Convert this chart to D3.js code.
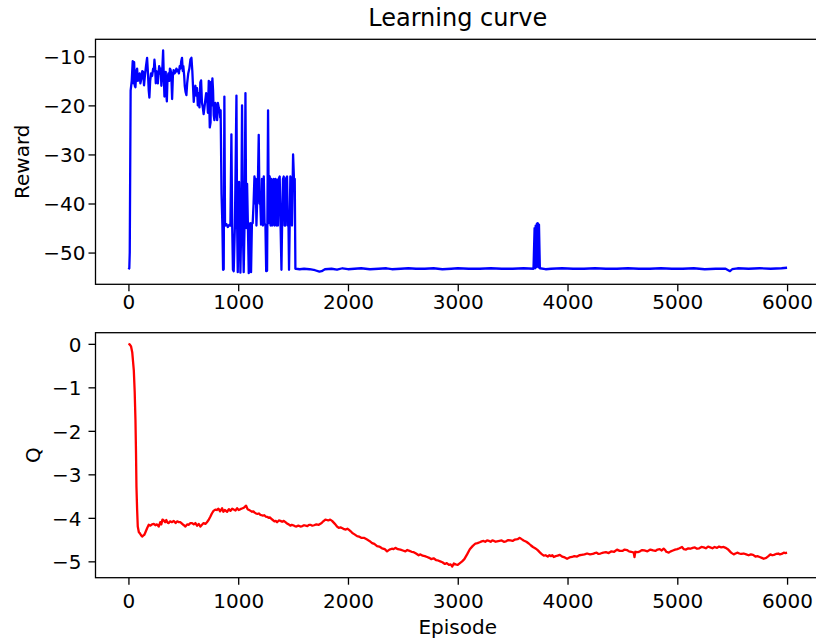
<!DOCTYPE html>
<html>
<head>
<meta charset="utf-8">
<script src="https://cdn.jsdelivr.net/npm/d3@7"></script>
<style>
  body { margin: 0; background: #fff; }
  text { font-family: "DejaVu Sans", sans-serif; fill: #000; }
</style>
</head>
<body>
<svg id="chart" width="816" height="643"></svg>
<script>
// episode / reward pairs
var rewardPoints = [
  [0,-53.4],[8,-53.2],[12,-50],[20,-17],[30,-15],[39,-11],[45,-15.5],[52,-11.2],[58,-16],[64,-16.3],
  [72,-13],[79,-12.5],[86,-15],[94,-14.3],[102,-13.5],[109,-15.5],[118,-14.5],[126,-13],[134,-13.2],[142,-15.9],
  [150,-14],[160,-12],[170,-10.3],[178,-13.5],[185,-17],[191,-18.4],[198,-15],[206,-13.5],[216,-14],[225,-12.5],
  [231,-13],[237,-10.7],[244,-12.5],[249,-15.5],[255,-13],[262,-14.5],[268,-15.5],[273,-13.8],[280,-12],[287,-13.5],
  [294,-12.5],[300,-16],[306,-14],[316,-8.8],[322,-14],[328,-18.2],[335,-15],[340,-13.2],[343,-17],[350,-19.2],
  [356,-14.5],[364,-13.5],[372,-15],[378,-12.5],[383,-12.7],[390,-13.5],[398,-18.7],[405,-14],[412,-12.8],[419,-13.5],
  [430,-13.2],[437,-12.5],[443,-13],[450,-12.8],[460,-13.5],[467,-12],[474,-12.5],[481,-11],[488,-10.3],[495,-13],
  [500,-12],[508,-14],[513,-16],[520,-17.2],[528,-17.9],[535,-15.5],[545,-13.5],[555,-12.5],[565,-10.6],[574,-10.3],
  [582,-13],[588,-16],[595,-19.3],[602,-17],[610,-16],[617,-18],[625,-16.5],[632,-20],[640,-17.5],[647,-20.4],
  [655,-15.3],[662,-14.9],[670,-19.5],[678,-20.5],[685,-21.8],[692,-20.5],[700,-19],[708,-17.5],[716,-18],[724,-21.5],
  [732,-15],[741,-24.5],[748,-23.5],[753,-15.2],[758,-20],[765,-14.5],[771,-17],[777,-22],[783,-23],[792,-19.5],
  [800,-21],[808,-23],[815,-19.5],[823,-20.5],[830,-21],[836,-22.5],[840,-21],[848,-38],[856,-44.5],[862,-53.5],
  [868,-53.4],[874,-18.2],[880,-44.5],[893,-44.2],[905,-44.8],[920,-44.3],[929,-44.5],[938,-25.9],[945,-44],[952,-53.5],
  [959,-53.8],[970,-44.5],[984,-18],[990,-44],[996,-54],[1002,-44],[1008,-35.6],[1014,-44.5],[1020,-54.1],[1028,-44],
  [1035,-20],[1042,-44.5],[1050,-54],[1058,-44],[1066,-17.5],[1073,-45],[1081,-36],[1088,-44],[1096,-54.2],[1105,-44.5],
  [1110,-44],[1117,-54],[1125,-44],[1132,-44],[1140,-40],[1148,-34.5],[1155,-40],[1160,-35],[1166,-44.5],[1172,-40],
  [1180,-35],[1187,-26],[1194,-40],[1202,-40.2],[1208,-44.3],[1216,-35],[1225,-44.5],[1233,-34.5],[1240,-44],[1248,-44.5],
  [1255,-53.8],[1263,-53.7],[1272,-21],[1279,-44],[1287,-34.5],[1295,-44.5],[1302,-35],[1309,-44.5],[1316,-35.5],[1324,-35],
  [1330,-44.5],[1340,-35],[1348,-44.5],[1356,-35.2],[1362,-44.5],[1369,-35],[1378,-34.5],[1386,-44.5],[1394,-53.5],[1400,-44],
  [1408,-35],[1415,-34.5],[1422,-44.5],[1430,-44.5],[1437,-34.8],[1445,-34.5],[1452,-44.5],[1458,-44],[1463,-53.5],[1469,-44.5],
  [1475,-34.5],[1482,-35],[1490,-44.5],[1500,-30],[1508,-35],[1515,-35],[1521,-53.3],[1527,-53.3],[1560,-53.4],[1600,-53.3],
  [1650,-53.4],[1700,-53.6],[1740,-53.9],[1760,-53.8],[1790,-53.4],[1850,-53.3],[1900,-53.5],[1950,-53.2],[2000,-53.4],[2060,-53.3],
  [2120,-53.2],[2200,-53.4],[2280,-53.3],[2350,-53.2],[2400,-53.4],[2480,-53.3],[2550,-53.2],[2620,-53.3],[2700,-53.3],[2780,-53.2],
  [2860,-53.4],[2940,-53.3],[3000,-53.2],[3100,-53.3],[3200,-53.3],[3300,-53.2],[3400,-53.3],[3500,-53.3],[3600,-53.2],[3690,-53.3],
  [3700,-45],[3705,-53.2],[3710,-44.5],[3715,-53],[3720,-44.2],[3728,-44],[3735,-53],[3740,-44.3],[3748,-53.2],[3800,-53.4],
  [3850,-53.3],[3950,-53.2],[4050,-53.3],[4150,-53.3],[4250,-53.2],[4350,-53.3],[4450,-53.3],[4550,-53.2],[4650,-53.3],[4750,-53.3],
  [4850,-53.2],[4950,-53.3],[5050,-53.3],[5150,-53.2],[5250,-53.4],[5350,-53.3],[5440,-53.3],[5480,-53.8],[5500,-53.4],[5550,-53.2],
  [5650,-53.3],[5750,-53.2],[5850,-53.3],[5950,-53.2],[6000,-53.1]
];

// episode / Q pairs
var qPoints = [
  [0,0],[10,-0.01],[24,-0.06],[35,-0.2],[49,-0.61],[57,-1.1],[64,-1.75],[69,-2.5],[73,-3.28],[79,-3.8],
  [85,-4.2],[95,-4.33],[103,-4.35],[115,-4.4],[125,-4.43],[134,-4.41],[145,-4.39],[155,-4.33],[170,-4.24],[185,-4.16],
  [200,-4.18],[215,-4.15],[231,-4.14],[245,-4.17],[260,-4.15],[276,-4.2],[290,-4.1],[300,-4.15],[310,-4.04],[322,-4.06],
  [335,-4.1],[345,-4.05],[356,-4.11],[367,-4.12],[380,-4.08],[395,-4.1],[413,-4.07],[430,-4.12],[445,-4.08],[460,-4.1],
  [474,-4.1],[490,-4.14],[505,-4.17],[519,-4.2],[535,-4.15],[550,-4.16],[565,-4.12],[580,-4.12],[595,-4.15],[610,-4.12],
  [625,-4.18],[640,-4.14],[656,-4.2],[670,-4.16],[685,-4.12],[701,-4.14],[715,-4.1],[730,-4.05],[747,-3.97],[760,-3.9],
  [775,-3.84],[792,-3.81],[805,-3.82],[820,-3.79],[835,-3.85],[853,-3.78],[865,-3.86],[878,-3.82],[899,-3.86],[915,-3.8],
  [930,-3.84],[945,-3.79],[959,-3.81],[975,-3.83],[990,-3.78],[1005,-3.82],[1020,-3.8],[1040,-3.78],[1055,-3.76],[1072,-3.72],
  [1085,-3.8],[1100,-3.82],[1113,-3.84],[1126,-3.86],[1138,-3.85],[1150,-3.88],[1163,-3.9],[1175,-3.91],[1188,-3.9],[1202,-3.93],
  [1214,-3.94],[1225,-3.95],[1238,-3.94],[1250,-3.97],[1265,-3.98],[1278,-4.0],[1290,-3.99],[1300,-4.02],[1315,-4.05],[1330,-4.08],
  [1342,-4.07],[1354,-4.1],[1370,-4.06],[1385,-4.07],[1400,-4.09],[1415,-4.07],[1430,-4.1],[1445,-4.13],[1460,-4.15],[1475,-4.18],
  [1488,-4.16],[1500,-4.17],[1515,-4.19],[1530,-4.2],[1548,-4.18],[1567,-4.2],[1585,-4.19],[1600,-4.17],[1615,-4.18],[1630,-4.19],
  [1645,-4.16],[1658,-4.16],[1675,-4.18],[1690,-4.17],[1712,-4.15],[1734,-4.16],[1760,-4.12],[1775,-4.08],[1794,-4.04],[1808,-4.05],
  [1820,-4.06],[1838,-4.04],[1855,-4.07],[1870,-4.11],[1885,-4.15],[1900,-4.2],[1916,-4.23],[1932,-4.22],[1950,-4.24],[1965,-4.26],
  [1980,-4.27],[1995,-4.25],[2007,-4.27],[2025,-4.31],[2040,-4.35],[2060,-4.38],[2083,-4.42],[2100,-4.43],[2120,-4.46],[2145,-4.46],
  [2174,-4.5],[2195,-4.53],[2220,-4.58],[2240,-4.6],[2265,-4.65],[2285,-4.66],[2310,-4.7],[2335,-4.72],[2356,-4.77],[2378,-4.73],
  [2400,-4.71],[2415,-4.72],[2432,-4.69],[2455,-4.72],[2478,-4.73],[2500,-4.75],[2523,-4.77],[2540,-4.74],[2560,-4.76],[2580,-4.78],
  [2599,-4.79],[2620,-4.82],[2644,-4.86],[2660,-4.84],[2680,-4.87],[2700,-4.88],[2721,-4.9],[2740,-4.92],[2760,-4.95],[2780,-4.93],
  [2802,-4.97],[2820,-4.98],[2840,-5.0],[2860,-5.02],[2883,-5.06],[2900,-5.04],[2920,-5.08],[2935,-5.07],[2950,-5.12],[2964,-5.05],
  [2980,-5.07],[3000,-5.08],[3020,-5.04],[3040,-5.0],[3060,-4.95],[3085,-4.84],[3110,-4.72],[3135,-4.65],[3161,-4.59],[3180,-4.58],
  [3200,-4.56],[3218,-4.54],[3235,-4.53],[3250,-4.55],[3267,-4.52],[3285,-4.53],[3300,-4.55],[3315,-4.52],[3330,-4.53],[3345,-4.55],
  [3358,-4.54],[3380,-4.53],[3400,-4.52],[3420,-4.55],[3440,-4.54],[3460,-4.51],[3480,-4.52],[3500,-4.53],[3520,-4.5],[3545,-4.49],
  [3565,-4.46],[3582,-4.49],[3600,-4.52],[3625,-4.55],[3647,-4.59],[3665,-4.63],[3685,-4.67],[3705,-4.7],[3723,-4.73],[3735,-4.76],
  [3750,-4.8],[3768,-4.84],[3784,-4.87],[3800,-4.86],[3820,-4.89],[3835,-4.86],[3850,-4.88],[3862,-4.86],[3875,-4.9],[3892,-4.88],
  [3910,-4.87],[3930,-4.85],[3951,-4.89],[3975,-4.91],[3996,-4.94],[4018,-4.91],[4040,-4.9],[4062,-4.88],[4087,-4.89],[4108,-4.86],
  [4130,-4.85],[4155,-4.84],[4178,-4.82],[4205,-4.84],[4230,-4.83],[4248,-4.81],[4265,-4.8],[4282,-4.83],[4300,-4.82],[4325,-4.8],
  [4350,-4.79],[4375,-4.81],[4400,-4.77],[4425,-4.78],[4451,-4.73],[4475,-4.76],[4500,-4.76],[4520,-4.73],[4542,-4.74],[4560,-4.77],
  [4580,-4.78],[4603,-4.8],[4610,-4.9],[4618,-4.78],[4640,-4.79],[4660,-4.77],[4680,-4.74],[4700,-4.75],[4728,-4.77],[4755,-4.73],
  [4780,-4.75],[4800,-4.76],[4820,-4.73],[4840,-4.72],[4858,-4.75],[4876,-4.71],[4890,-4.74],[4900,-4.78],[4922,-4.8],[4940,-4.77],
  [4960,-4.75],[4980,-4.73],[5000,-4.72],[5020,-4.7],[5043,-4.67],[5060,-4.72],[5080,-4.73],[5100,-4.7],[5119,-4.71],[5140,-4.69],
  [5160,-4.68],[5180,-4.71],[5200,-4.7],[5220,-4.67],[5241,-4.68],[5260,-4.7],[5280,-4.66],[5300,-4.68],[5320,-4.7],[5340,-4.67],
  [5362,-4.69],[5380,-4.66],[5400,-4.68],[5423,-4.67],[5440,-4.69],[5460,-4.72],[5475,-4.76],[5490,-4.8],[5514,-4.84],[5530,-4.82],
  [5550,-4.8],[5565,-4.82],[5580,-4.83],[5605,-4.82],[5628,-4.84],[5650,-4.86],[5670,-4.84],[5690,-4.85],[5712,-4.89],[5730,-4.88],
  [5750,-4.9],[5770,-4.92],[5787,-4.94],[5810,-4.92],[5830,-4.88],[5848,-4.84],[5865,-4.86],[5880,-4.85],[5900,-4.83],[5920,-4.82],
  [5935,-4.84],[5950,-4.83],[5970,-4.8],[5985,-4.81],[6000,-4.8]
];

var xTicks = [0, 1000, 2000, 3000, 4000, 5000, 6000];
var rewardTicks = [-10, -20, -30, -40, -50];
var qTicks = [0, -1, -2, -3, -4, -5];

var svg = d3.select("#chart");
svg.append("rect").attr("width", 816).attr("height", 643).attr("fill", "#fff");

var left = 95.5, right = 820;
var x = d3.scaleLinear().domain([-300, 6300]).range([left, right]);

// matplotlib style 5% margin round the data
function padded(pts) {
    var ext = d3.extent(pts, function(d) { return d[1]; });
    var m = (ext[1] - ext[0]) * 0.05;
    return [ext[0] - m, ext[1] + m];
}

function panel(pts, yTicks, top, bottom, color, opts) {
    var y = d3.scaleLinear().domain(padded(pts)).range([bottom, top]);
    var g = svg.append("g");

    var xa = g.append("g")
        .attr("transform", "translate(0," + bottom + ")")
        .call(d3.axisBottom(x).tickValues(xTicks).tickSize(7).tickPadding(opts.xPad).tickFormat(d3.format("d")));
    xa.select(".domain").remove();

    var ya = g.append("g")
        .attr("transform", "translate(" + left + ",0)")
        .call(d3.axisLeft(y).tickValues(yTicks).tickSize(7).tickPadding(opts.yPad).tickFormat(d3.format("d")));
    ya.select(".domain").remove();

    g.selectAll(".tick line").attr("stroke", "#000").attr("stroke-width", 1.3);
    g.selectAll(".tick text").style("font-size", "20px").style("font-family", "DejaVu Sans").attr("fill", "#000");
    ya.selectAll(".tick text").attr("dy", "0.36em");

    var clipId = "clip" + Math.round(top);
    svg.append("clipPath").attr("id", clipId)
        .append("rect").attr("x", left).attr("y", top).attr("width", right - left).attr("height", bottom - top);

    var line = d3.line()
        .x(function(d) { return x(d[0]); })
        .y(function(d) { return y(d[1]); });

    g.append("path")
        .datum(pts)
        .attr("clip-path", "url(#" + clipId + ")")
        .attr("fill", "none")
        .attr("stroke", color)
        .attr("stroke-width", 2.3)
        .attr("stroke-linejoin", "round")
        .attr("d", line);

    g.append("rect")
        .attr("x", left).attr("y", top)
        .attr("width", right - left).attr("height", bottom - top)
        .attr("fill", "none").attr("stroke", "#000").attr("stroke-width", 1.3);

    g.append("text")
        .attr("transform", "translate(" + opts.labelX + "," + ((top + bottom) / 2) + ") rotate(-90)")
        .attr("text-anchor", "middle")
        .style("font-size", "20px")
        .text(opts.label);
    return g;
}

panel(rewardPoints, rewardTicks, 39.3, 284.3, "#0000ff", { xPad: 4, yPad: 3, labelX: 28.5, label: "Reward" });
panel(qPoints, qTicks, 332.7, 577.7, "#ff0000", { xPad: 9, yPad: 7, labelX: 40, label: "Q" });

svg.append("text")
    .attr("x", (left + right) / 2).attr("y", 26)
    .attr("text-anchor", "middle")
    .style("font-size", "24px")
    .text("Learning curve");

svg.append("text")
    .attr("x", (left + right) / 2).attr("y", 634)
    .attr("text-anchor", "middle")
    .style("font-size", "20px")
    .text("Episode");
</script>
</body>
</html>
